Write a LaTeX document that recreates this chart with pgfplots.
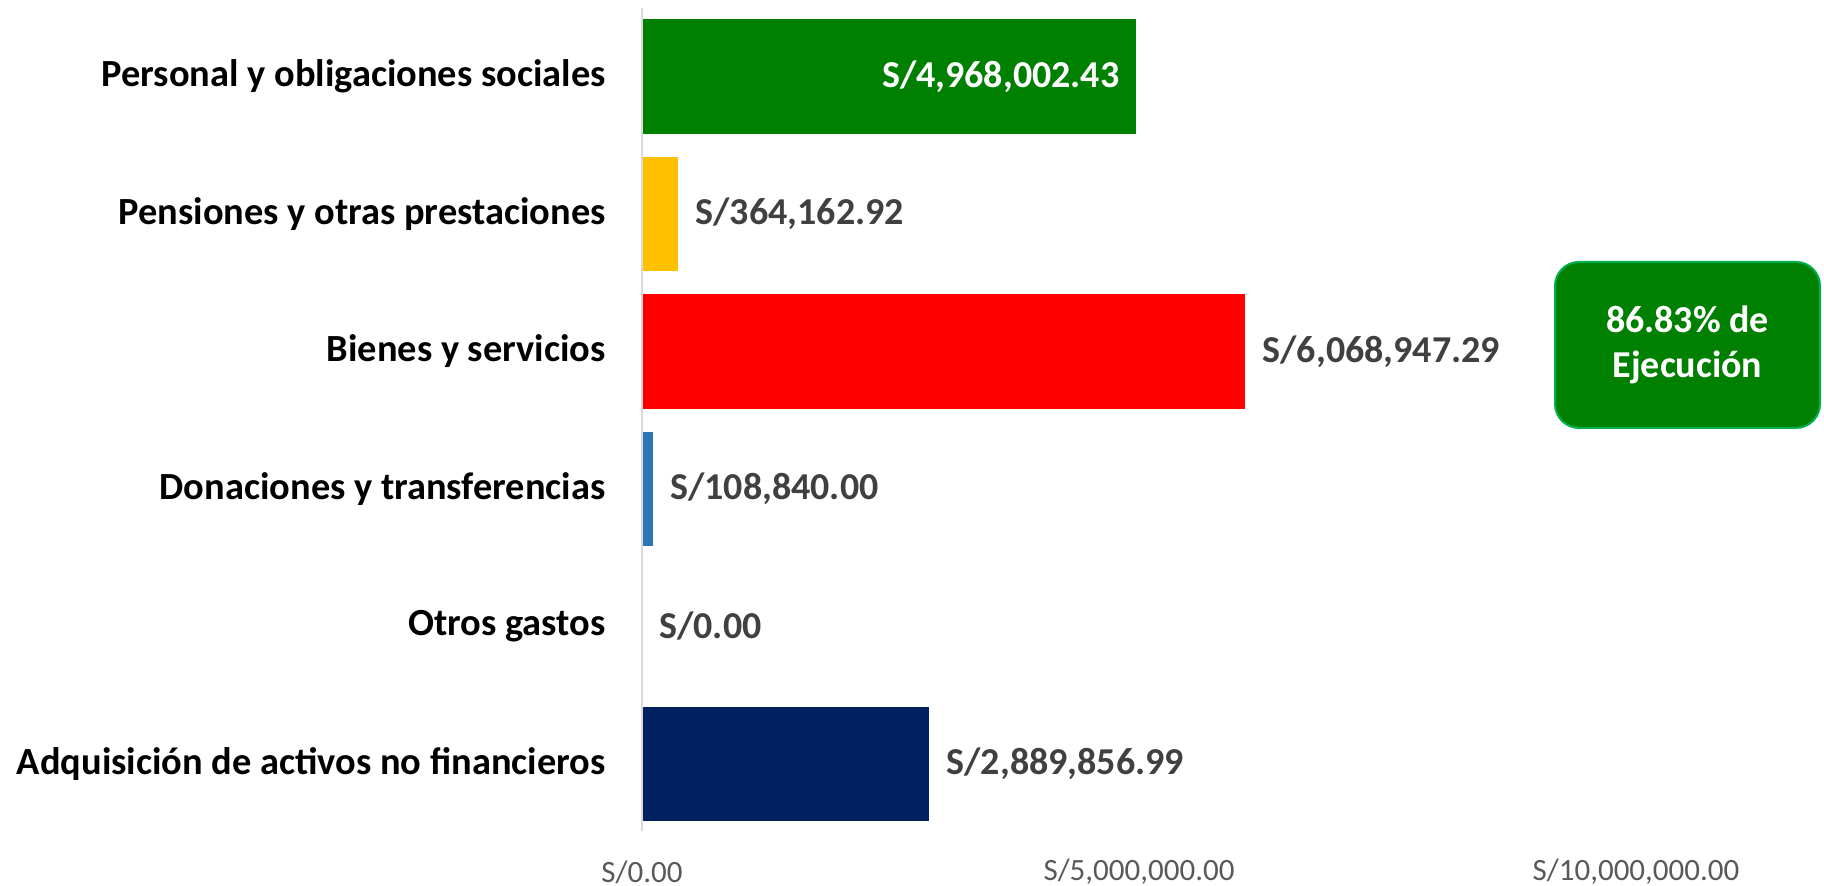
\documentclass[border=0pt]{standalone}
\usepackage{pgfplots}
\pgfplotsset{compat=1.18}
\usepackage{fontspec}
\setmainfont{Carlito}
\definecolor{cgreen}{RGB}{0,128,0}
\definecolor{cyellow}{RGB}{255,192,0}
\definecolor{cred}{RGB}{255,0,0}
\definecolor{cblue}{RGB}{46,117,182}
\definecolor{cnavy}{RGB}{0,32,96}
\definecolor{lblgray}{RGB}{64,64,64}
\definecolor{tickgray}{RGB}{89,89,89}
\definecolor{axgray}{RGB}{217,217,217}
\definecolor{boxedge}{RGB}{0,176,80}
\begin{document}
\begin{tikzpicture}
\useasboundingbox (-321bp,-26.625bp) rectangle (591bp,416.375bp);
\begin{axis}[
    at={(0,0)}, anchor=south west,
    scale only axis,
    width=497bp, height=412.5bp,
    xbar, bar width=0.836,
    xmin=0, xmax=10000000,
    ymin=-0.5, ymax=5.5,
    y dir=reverse,
    axis line style={draw=none},
    major tick length=0,
    xtick={0,5000000,10000000},
    xticklabels={{S/0.00},{S/5,000,000.00},{S/10,000,000.00}},
    xticklabel style={font=\fontsize{15.5bp}{18bp}\selectfont, text=tickgray, inner sep=0pt, anchor=center, yshift=-19.6bp},
    ytick={0,1,2,3,4,5},
    yticklabels={Personal y obligaciones sociales, Pensiones y otras prestaciones, Bienes y servicios, Donaciones y transferencias, Otros gastos, Adquisición de activos no financieros},
    yticklabel style={font=\fontsize{19.2bp}{22bp}\selectfont\bfseries, text=black, inner sep=0pt, anchor=east, xshift=-18bp},
    scaled x ticks=false,
    point meta=explicit symbolic,
    nodes near coords,
    every node near coord/.append style={font=\fontsize{19bp}{22bp}\selectfont\bfseries, text=lblgray, anchor=west, xshift=8.5bp, inner sep=0pt},
    clip=false,
]
\addplot[fill=cgreen, draw=none, bar shift=0pt,
  every node near coord/.append style={text=white, anchor=east, xshift=-16.5bp}]
  table[x=v, y=i, meta=lab] {
i v lab
0 4968002.43 S/4,968,002.43
};
\addplot[fill=cyellow, draw=none, bar shift=0pt] table[x=v, y=i, meta=lab] {
i v lab
1 364162.92 S/364,162.92
};
\addplot[fill=cred, draw=none, bar shift=0pt] table[x=v, y=i, meta=lab] {
i v lab
2 6068947.29 S/6,068,947.29
};
\addplot[fill=cblue, draw=none, bar shift=0pt] table[x=v, y=i, meta=lab] {
i v lab
3 108840.00 S/108,840.00
};
\addplot[fill=cblue, draw=none, bar shift=0pt] table[x=v, y=i, meta=lab] {
i v lab
4 0 S/0.00
};
\addplot[fill=cnavy, draw=none, bar shift=0pt] table[x=v, y=i, meta=lab] {
i v lab
5 2889856.99 S/2,889,856.99
};
\draw[axgray, line width=1.2bp] (axis cs:0,-0.5) -- (axis cs:0,5.49);
\end{axis}
\draw[boxedge, fill=cgreen, line width=1bp, rounded corners=12bp] (456.5bp,202.4bp) rectangle (589bp,285.4bp);
\node[align=center, text=white, font=\fontsize{19bp}{22.7bp}\selectfont\bfseries] at (522.75bp,243.9bp) {86.83\% de\\Ejecución};
\end{tikzpicture}
\end{document}
